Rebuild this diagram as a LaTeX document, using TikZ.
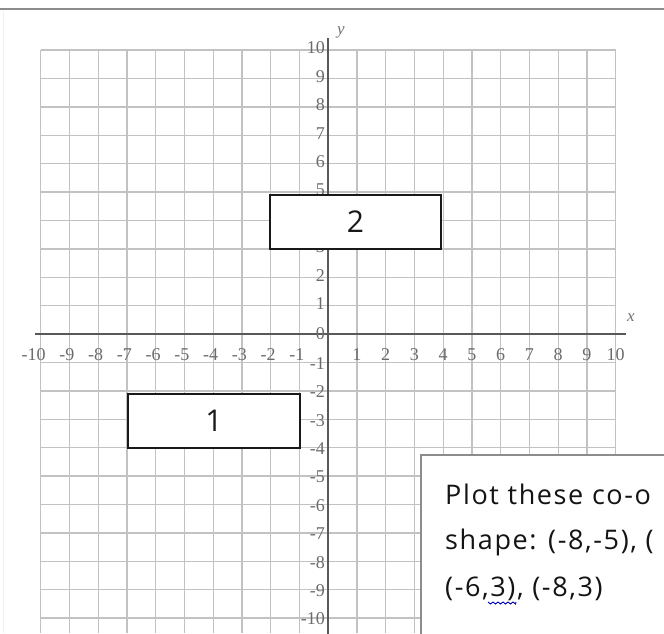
\documentclass[tikz,border=0pt]{standalone}
\usepackage{fontspec}
\setmainfont{Liberation Serif}
\newfontfamily\boxfont[LetterSpace=6]{Open Sans}
\newfontfamily\numfont{Open Sans}
\begin{document}
\begin{tikzpicture}[x=1pt,y=-1pt,
  gridline/.style={draw=black!24,line width=1.4pt},
  axisline/.style={draw=black!65,line width=2.2pt},
  tick/.style={font=\fontsize{18}{18}\selectfont,text=black!58,inner sep=0pt},
  axlabel/.style={font=\fontsize{17}{17}\selectfont\itshape,text=black!55,inner sep=0pt},
  shapebox/.style={draw=black!90,line width=1.7pt,fill=white,inner sep=0pt,
    font=\numfont\fontsize{30}{30}\selectfont,text=black!90},
  textframe/.style={draw=black!45,line width=2pt,fill=white,inner sep=0pt},
  boxtext/.style={font=\boxfont\fontsize{27}{27}\selectfont,text=black!92,inner sep=0pt,anchor=base west}]
\useasboundingbox (0,0) rectangle (664,633);
\clip (0,0) rectangle (664,633);
\fill[white] (0,0) rectangle (664,633);
% frame lines
\coordinate (tl) at (0,9);
\coordinate (tr) at (664,9);
\draw[black!45,line width=2.5pt] (tl) -- (tr);
\coordinate (lt) at (3,11);
\coordinate (lb) at (3,633);
\draw[black!6,line width=1pt] (lt) -- (lb);
% grid
\def\ox{328.2}\def\oy{334}\def\ux{28.75}\def\uy{28.4}
\foreach \i in {-10,...,10} {
  \draw[gridline] ({\ox+\i*\ux},{\oy-10*\uy}) -- ({\ox+\i*\ux},633);
  \draw[gridline] ({\ox-10*\ux},{\oy+\i*\uy}) -- ({\ox+10*\ux},{\oy+\i*\uy});
}
% axes
\coordinate (xa) at (35,\oy);
\coordinate (xb) at (626,\oy);
\coordinate (ya) at (\ox,38);
\coordinate (yb) at (\ox,640);
\draw[axisline] (xa) -- (xb);
\draw[axisline] (ya) -- (yb);
\node[axlabel] (xname) at (631,318) {x};
\node[axlabel] (yname) at (341,32) {y};
% x tick labels
\foreach \i in {1,...,10} {
  \node[tick,anchor=base] (xp\i) at ({\ox+\i*\ux},360) {\i};
  \node[tick,anchor=base east] (xn\i) at ({\ox-\i*\ux+5},360) {-\i};
}
% y tick labels
\node[tick,anchor=east] (y0) at (325,\oy) {0};
\foreach \i in {1,...,10} {
  \node[tick,anchor=east] (yp\i) at (325,{\oy-\i*\uy-2}) {\i};
  \node[tick,anchor=east] (yn\i) at (325,{\oy+\i*\uy+1}) {-\i};
}
% shapes
\node[shapebox,minimum width=172pt,minimum height=54pt] (r1) at (214,421) {1};
\node[shapebox,minimum width=171pt,minimum height=54pt] (r2) at (355.5,222) {2};
% text box
\node[textframe,anchor=north west,minimum width=280pt,minimum height=200pt] (tb) at (420,454) {};
\node[boxtext] (t1) at (445,504) {Plot these co-o};
\node[boxtext] (t2) at (445,549) {shape: (-8,-5), (};
\node[boxtext] (t3) at (445,596) {(-6,3), (-8,3)};
% spell-check squiggle
\coordinate (s0) at (488,602);
\coordinate (s1) at (516,602);
\draw[blue!75!black,line width=0.9pt]
  (s0) -- ++(2.5,2) -- ++(2.5,-2) -- ++(2.5,2) -- ++(2.5,-2) -- ++(2.5,2) -- ++(2.5,-2)
  -- ++(2.5,2) -- ++(2.5,-2) -- ++(2.5,2) -- ++(2.5,-2) -- ++(2.5,2) -- (s1);
\end{tikzpicture}
\end{document}
